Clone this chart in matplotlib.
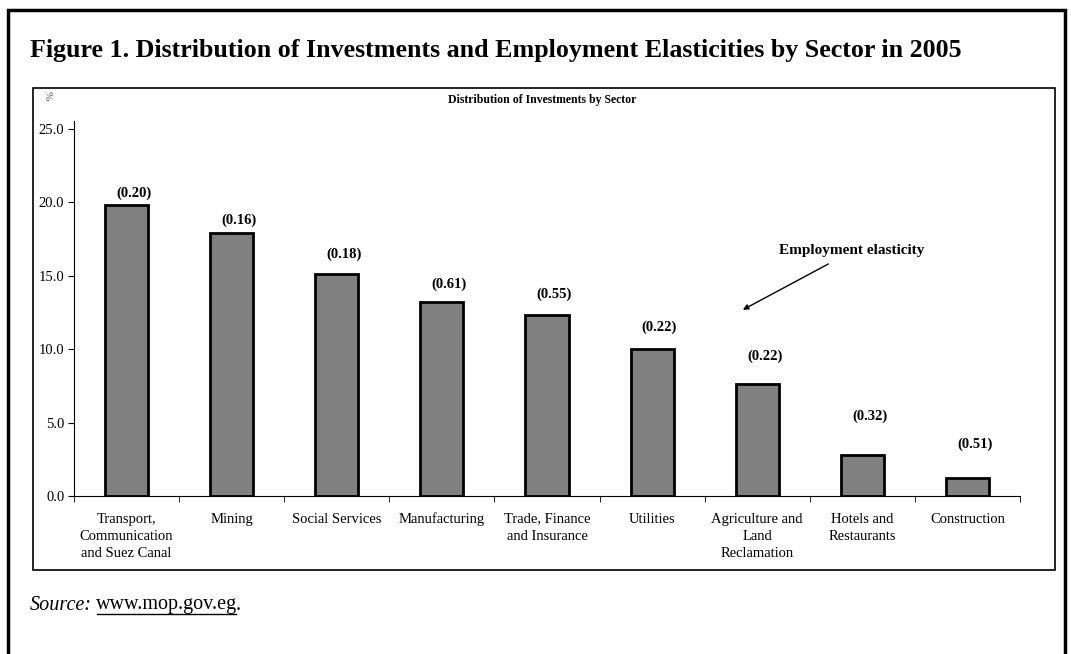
import matplotlib.pyplot as plt
from matplotlib.patches import Rectangle
import numpy as np

plt.rcParams['font.family'] = ['Liberation Serif', 'DejaVu Serif']

sectors = ["Transport,\nCommunication\nand Suez Canal", "Mining", "Social Services",
           "Manufacturing", "Trade, Finance\nand Insurance", "Utilities",
           "Agriculture and\nLand\nReclamation", "Hotels and\nRestaurants", "Construction"]
investment = [19.8, 17.9, 15.1, 13.2, 12.3, 10.0, 7.6, 2.8, 1.2]
elasticity = ["(0.20)", "(0.16)", "(0.18)", "(0.61)", "(0.55)", "(0.22)", "(0.22)", "(0.32)", "(0.51)"]
label_gap = [0.82, 0.9, 1.36, 1.23, 1.43, 1.5, 1.9, 2.66, 2.3]
yticks = [0, 5, 10, 15, 20, 25]

fig = plt.figure(figsize=(10.71, 6.54), dpi=100)

# cadre exterieur + cadre du graphique
fig.patches.append(Rectangle((8/1071, -0.1), 1057/1071, 1.1 - 10/654, transform=fig.transFigure,
                             fill=False, lw=2.5, ec='black'))
fig.patches.append(Rectangle((33/1071, 1 - 570/654), 1022/1071, 482/654, transform=fig.transFigure,
                             fill=False, lw=1.2, ec='black'))

fig.text(30/1071, 1 - 50/654, "Figure 1. Distribution of Investments and Employment Elasticities by Sector in 2005",
         fontsize=18.7, fontweight='bold', va='center', ha='left')

ax = fig.add_axes([74/1071, 1 - 496/654, 946/1071, 375/654])
x = np.arange(len(sectors))
ax.bar(x, investment, width=0.41, color='#808080', edgecolor='black', linewidth=2)
for i in range(len(sectors)):
    ax.text(x[i] + 0.07, investment[i] + label_gap[i], elasticity[i], ha='center', va='center',
            fontsize=10.5, fontweight='bold')

ax.set_xlim(-0.5, len(sectors) - 0.5)
ax.set_ylim(0, 25.55)
ax.set_yticks(yticks)
ax.set_yticklabels([f"{v:.1f}" for v in yticks], fontsize=10.5)
ax.set_xticks(x)
ax.set_xticklabels(sectors, fontsize=10.5, linespacing=1.4)
ax.set_xticks(np.arange(len(sectors) + 1) - 0.5, minor=True)
ax.tick_params(axis='x', which='major', length=0, pad=12)
ax.tick_params(axis='x', which='minor', length=4, direction='out')
ax.tick_params(axis='y', length=4, direction='out', pad=3)
for s in ['top', 'right']:
    ax.spines[s].set_visible(False)

ax.annotate("", xy=(5.84, 12.6), xytext=(6.7, 15.9),
            arrowprops=dict(arrowstyle='-|>', color='black', lw=1, mutation_scale=8))
ax.text(6.9, 16.7, "Employment elasticity", ha='center', va='center', fontsize=11, fontweight='bold')

fig.text(542/1071, 1 - 100/654, "Distribution of Investments by Sector", ha='center', va='center',
         fontsize=8.5, fontweight='bold')
fig.text(47/1071, 1 - 96/654, "%", ha='center', va='center', fontsize=8, rotation=-90, color='#555555')

fig.text(30/1071, 1 - 605/654, "Source:", style='italic', fontsize=14.5, va='center', ha='left')
fig.text(96/1071, 1 - 605/654, "www.mop.gov.eg", fontsize=14.5, va='center', ha='left')
fig.add_artist(plt.Line2D([97/1071, 236/1071], [1 - 614/654, 1 - 614/654], color='black', lw=1))
fig.text(236/1071, 1 - 605/654, ".", fontsize=14.5, va='center', ha='left')

fig.savefig("out.png", dpi=100)
